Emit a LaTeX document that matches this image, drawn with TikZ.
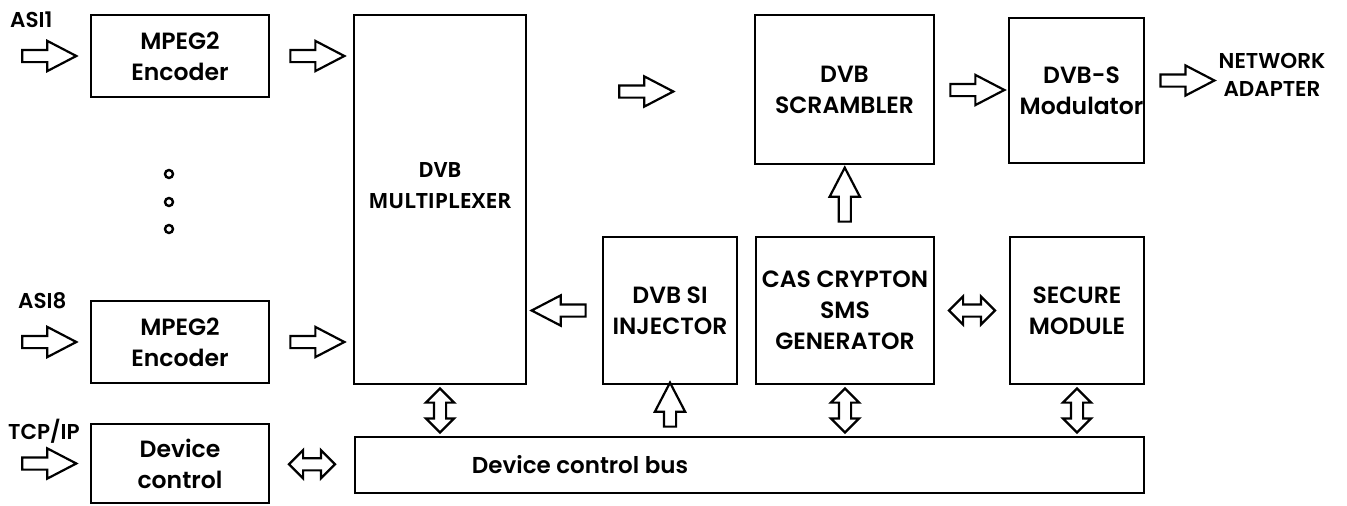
\documentclass[tikz,border=0pt]{standalone}
\usepackage{fontspec}
\newfontfamily\gothic[BoldFont={Poppins SemiBold}]{Poppins}
\newfontfamily\humanist{Open Sans}
\usetikzlibrary{shapes.arrows, calc, positioning}

\tikzset{
  blk/.style={draw, line width=2.6pt, inner sep=0pt, align=center,
    font=\gothic\bfseries\fontsize{23.5}{31}\selectfont},
  lbl/.style={inner sep=0pt, align=center,
    font=\gothic\bfseries\fontsize{21.5}{28}\selectfont},
  sarrow/.style={single arrow, draw, line width=2.2pt, inner xsep=0pt, inner ysep=5pt,
    text height=0pt, text depth=0pt, minimum height=54pt,
    single arrow head extend=9pt, single arrow tip angle=55, single arrow head indent=0pt},
  darrow/.style={double arrow, draw, line width=2.2pt, inner xsep=0pt, inner ysep=5pt,
    text height=0pt, text depth=0pt, minimum height=46pt,
    double arrow head extend=8pt, double arrow tip angle=90, double arrow head indent=0pt},
  dot/.style={circle, draw, line width=2.4pt, inner sep=0pt, minimum size=8pt}
}

\begin{document}
\begin{tikzpicture}[x=1pt,y=-1pt]
\useasboundingbox (0,0) rectangle (1347,506);

% Blocks
\node[blk, minimum width=178pt, minimum height=82pt] (enc1) at (180,56) {MPEG2\\Encoder};
\node[blk, minimum width=178pt, minimum height=82pt] (enc2) at (180,342) {MPEG2\\Encoder};
\node[blk, minimum width=178pt, minimum height=79pt] (dev) at (180,463.5) {Device\\control};
\node[blk, minimum width=172pt, minimum height=369pt,
  label={[yshift=14pt, align=center, font=\humanist\bfseries\fontsize{21}{31}\selectfont]center:DVB\\MULTIPLEXER}] (mux) at (440,199.5) {};
\node[blk, minimum width=179pt, minimum height=149pt] (scr) at (844.5,89.5) {DVB\\SCRAMBLER};
\node[blk, minimum width=135pt, minimum height=145pt,
  label={[xshift=5pt, align=center, font=\gothic\bfseries\fontsize{23.5}{31}\selectfont]center:DVB-S\\Modulator}] (mod) at (1076.5,90.5) {};
\node[blk, minimum width=134pt, minimum height=147pt] (inj) at (670,310.5) {DVB SI\\INJECTOR};
\node[blk, minimum width=178pt, minimum height=147pt] (cas) at (845,310.5) {CAS CRYPTON\\SMS\\GENERATOR};
\node[blk, minimum width=134pt, minimum height=147pt] (sec) at (1077,310.5) {SECURE\\MODULE};
\node[blk, minimum width=789pt, minimum height=56pt] (bus) at (749.5,465) {};
\node[lbl, font=\gothic\bfseries\fontsize{23}{26}\selectfont] (bustext) at (580,465) {Device control bus};

% Text Node
\node[lbl, anchor=south west] (asi1) at (10,28) {ASI1};
\node[lbl, anchor=south west] (asi8) at (18,309) {ASI8};
\node[lbl, anchor=south west] (tcp) at (8,444) {TCP/IP};
\node[lbl] (net) at (1272,75) {NETWORK\\ADAPTER};

% Dots
\foreach \i/\y in {1/174,2/202,3/229}
  \node[dot] (dot\i) at (169,\y) {};

% Block arrows
\node[sarrow, left=11pt of enc1] (in1) {};
\node[sarrow, left=11pt of enc2] (in8) {};
\node[sarrow, left=11pt of dev] (intcp) {};
\node[sarrow] (e1m) at ($(enc1.east)!0.5!(mux.west |- enc1.east)$) {};
\node[sarrow] (e8m) at ($(enc2.east)!0.5!(mux.west |- enc2.east)$) {};
\node[sarrow, left=78pt of scr, yshift=-2pt] (ms) {};
\node[sarrow] (sm) at ($(scr.east)!0.5!(mod.west)$) {};
\node[sarrow, right=14pt of mod.east, yshift=10pt] (mn) {};
\node[sarrow, rotate=90] (cs) at ($(scr.south)!0.5!(cas.north)$) {};
\node[sarrow, rotate=180] (im) at ($(inj.west)!0.5!(mux.east |- inj.west)$) {};
\node[darrow] (csec) at ($(cas.east)!0.5!(sec.west)$) {};
\node[darrow] (db) at ($(dev.east)!0.5!(bus.west)$) {};
\node[darrow, rotate=90, minimum height=44pt] (mb) at ($(mux.south)!0.5!(bus.north -| mux.south)$) {};
\node[sarrow, rotate=90, minimum height=44pt] (ib) at ($(inj.south)!0.5!(bus.north -| inj.south)$) {};
\node[darrow, rotate=90, minimum height=44pt] (cb) at ($(cas.south)!0.5!(bus.north -| cas.south)$) {};
\node[darrow, rotate=90, minimum height=44pt] (sb) at ($(sec.south)!0.5!(bus.north -| sec.south)$) {};

\end{tikzpicture}
\end{document}
